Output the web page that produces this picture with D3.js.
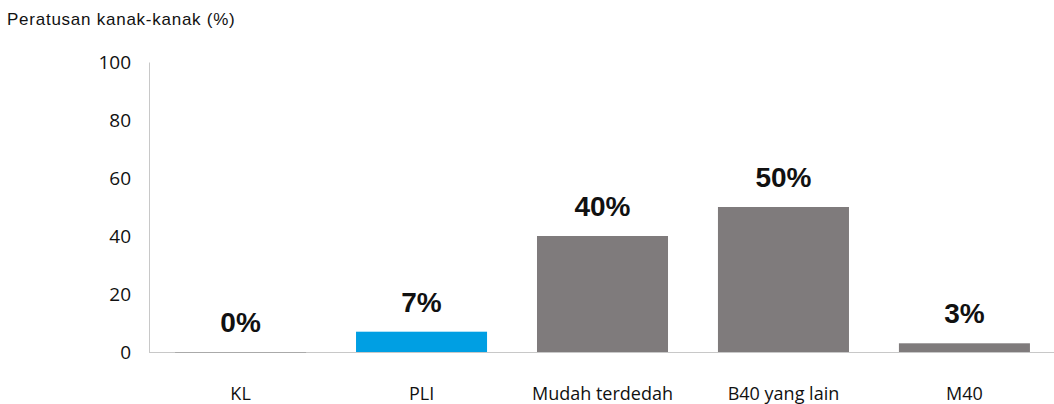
<!DOCTYPE html>
<html>
<head>
<meta charset="utf-8">
<script src="https://cdn.jsdelivr.net/npm/d3@7/dist/d3.min.js"></script>
<style>
  html, body { margin: 0; padding: 0; background: #fff; }
  svg { display: block; }
</style>
</head>
<body>
<svg id="chart" width="1054" height="404"></svg>
<script>
// Share of children by group (%)
const categories = ["KL", "PLI", "Mudah terdedah", "B40 yang lain", "M40"];
const values = [0, 7, 40, 50, 3];
const valueLabels = ["0%", "7%", "40%", "50%", "3%"];
const barColors = ["#7f7b7c", "#009fe3", "#7f7b7c", "#7f7b7c", "#7f7b7c"];
const yTicks = [0, 20, 40, 60, 80, 100];
const titleText = "Peratusan kanak-kanak (%)";

const svg = d3.select("#chart");
const margin = { left: 149 };
const W = 1054;

const x = d3.scaleBand()
  .domain(categories)
  .range([margin.left, 1056])
  .paddingInner(0.276)
  .paddingOuter(0.144);

const y = d3.scaleLinear()
  .domain([0, 100])
  .range([352, 62]);

// title
svg.append("text")
  .attr("x", 7).attr("y", 25)
  .attr("font-family", "Liberation Sans, Arial, sans-serif")
  .attr("font-size", 17)
  .attr("letter-spacing", 0.75)
  .attr("fill", "#111")
  .text(titleText);

// y axis: line + labels
const yAxis = d3.axisLeft(y).tickValues(yTicks).tickSize(0).tickPadding(18);
const yg = svg.append("g").attr("transform", `translate(${margin.left},0)`).call(yAxis);
yg.select(".domain").attr("stroke", "#c8c8c8").attr("stroke-width", 1);
yg.selectAll("text")
  .attr("font-family", "Open Sans, sans-serif")
  .attr("font-size", 19)
  .attr("fill", "#111");

// bars
svg.append("g").selectAll("rect")
  .data(values)
  .join("rect")
  .attr("x", (d, i) => x(categories[i]))
  .attr("y", d => y(d))
  .attr("width", x.bandwidth())
  .attr("height", d => y(0) - y(d))
  .attr("fill", (d, i) => barColors[i]);

// x axis: baseline + labels
const xAxis = d3.axisBottom(x).tickSize(0).tickPadding(35);
const xg = svg.append("g").attr("transform", `translate(0,${y(0)})`).call(xAxis);
xg.select(".domain").attr("d", `M${margin.left},0.5H${W}`).attr("stroke", "#c8c8c8").attr("stroke-width", 1.2);
xg.selectAll("text")
  .attr("font-family", "Open Sans, sans-serif")
  .attr("font-size", 18)
  .attr("fill", "#111");

// a zero-height bar still shows as a darker strip on the baseline
svg.append("g").selectAll("line")
  .data(values.map((v, i) => i).filter(i => values[i] === 0))
  .join("line")
  .attr("x1", i => x(categories[i]))
  .attr("x2", i => x(categories[i]) + x.bandwidth())
  .attr("y1", y(0) + 0.5).attr("y2", y(0) + 0.5)
  .attr("stroke", "#aaa").attr("stroke-width", 1.2);

// value labels
svg.append("g").selectAll("text")
  .data(values)
  .join("text")
  .attr("x", (d, i) => x(categories[i]) + x.bandwidth() / 2)
  .attr("y", d => y(d) - 20)
  .attr("text-anchor", "middle")
  .attr("font-family", "Liberation Sans, Arial, sans-serif")
  .attr("font-weight", "bold")
  .attr("font-size", 28)
  .attr("fill", "#111")
  .text((d, i) => valueLabels[i]);
</script>
</body>
</html>
